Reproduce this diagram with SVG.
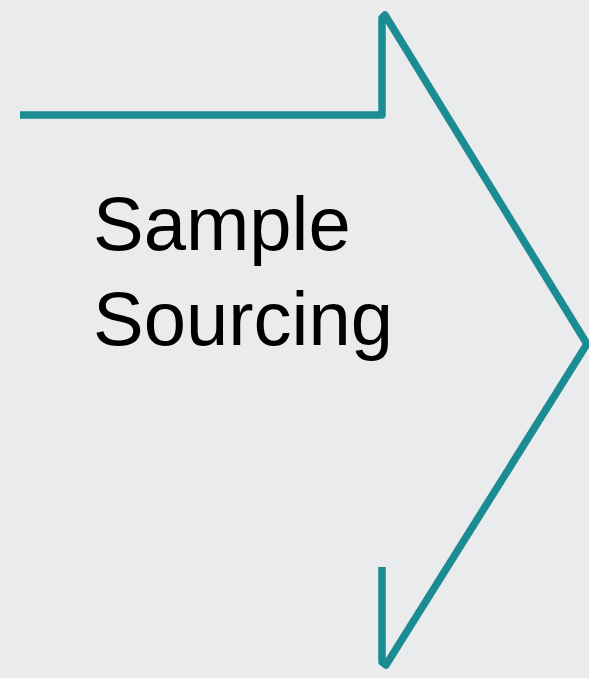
<svg xmlns="http://www.w3.org/2000/svg" width="589" height="678" viewBox="0 0 589 678">
  <style>
    .outline { fill: none; stroke: #1c8c93; stroke-width: 7.5; stroke-linejoin: round; stroke-linecap: butt; }
    .label { font-family: "Liberation Sans", Arial, sans-serif; font-size: 76px; fill: #000000; }
  </style>
  <rect x="0" y="0" width="589" height="678" fill="#e9ebed"/>
  <g id="connectors">
    <path class="outline" d="M20,115 L382,115 L382,18 L385,15 L587,344 L386,665 L382,662 L382,567"/>
  </g>
  <g id="node-sample-sourcing">
    <text class="label" x="93" y="250">Sample</text>
    <text class="label" x="93" y="345">Sourcing</text>
  </g>
</svg>
